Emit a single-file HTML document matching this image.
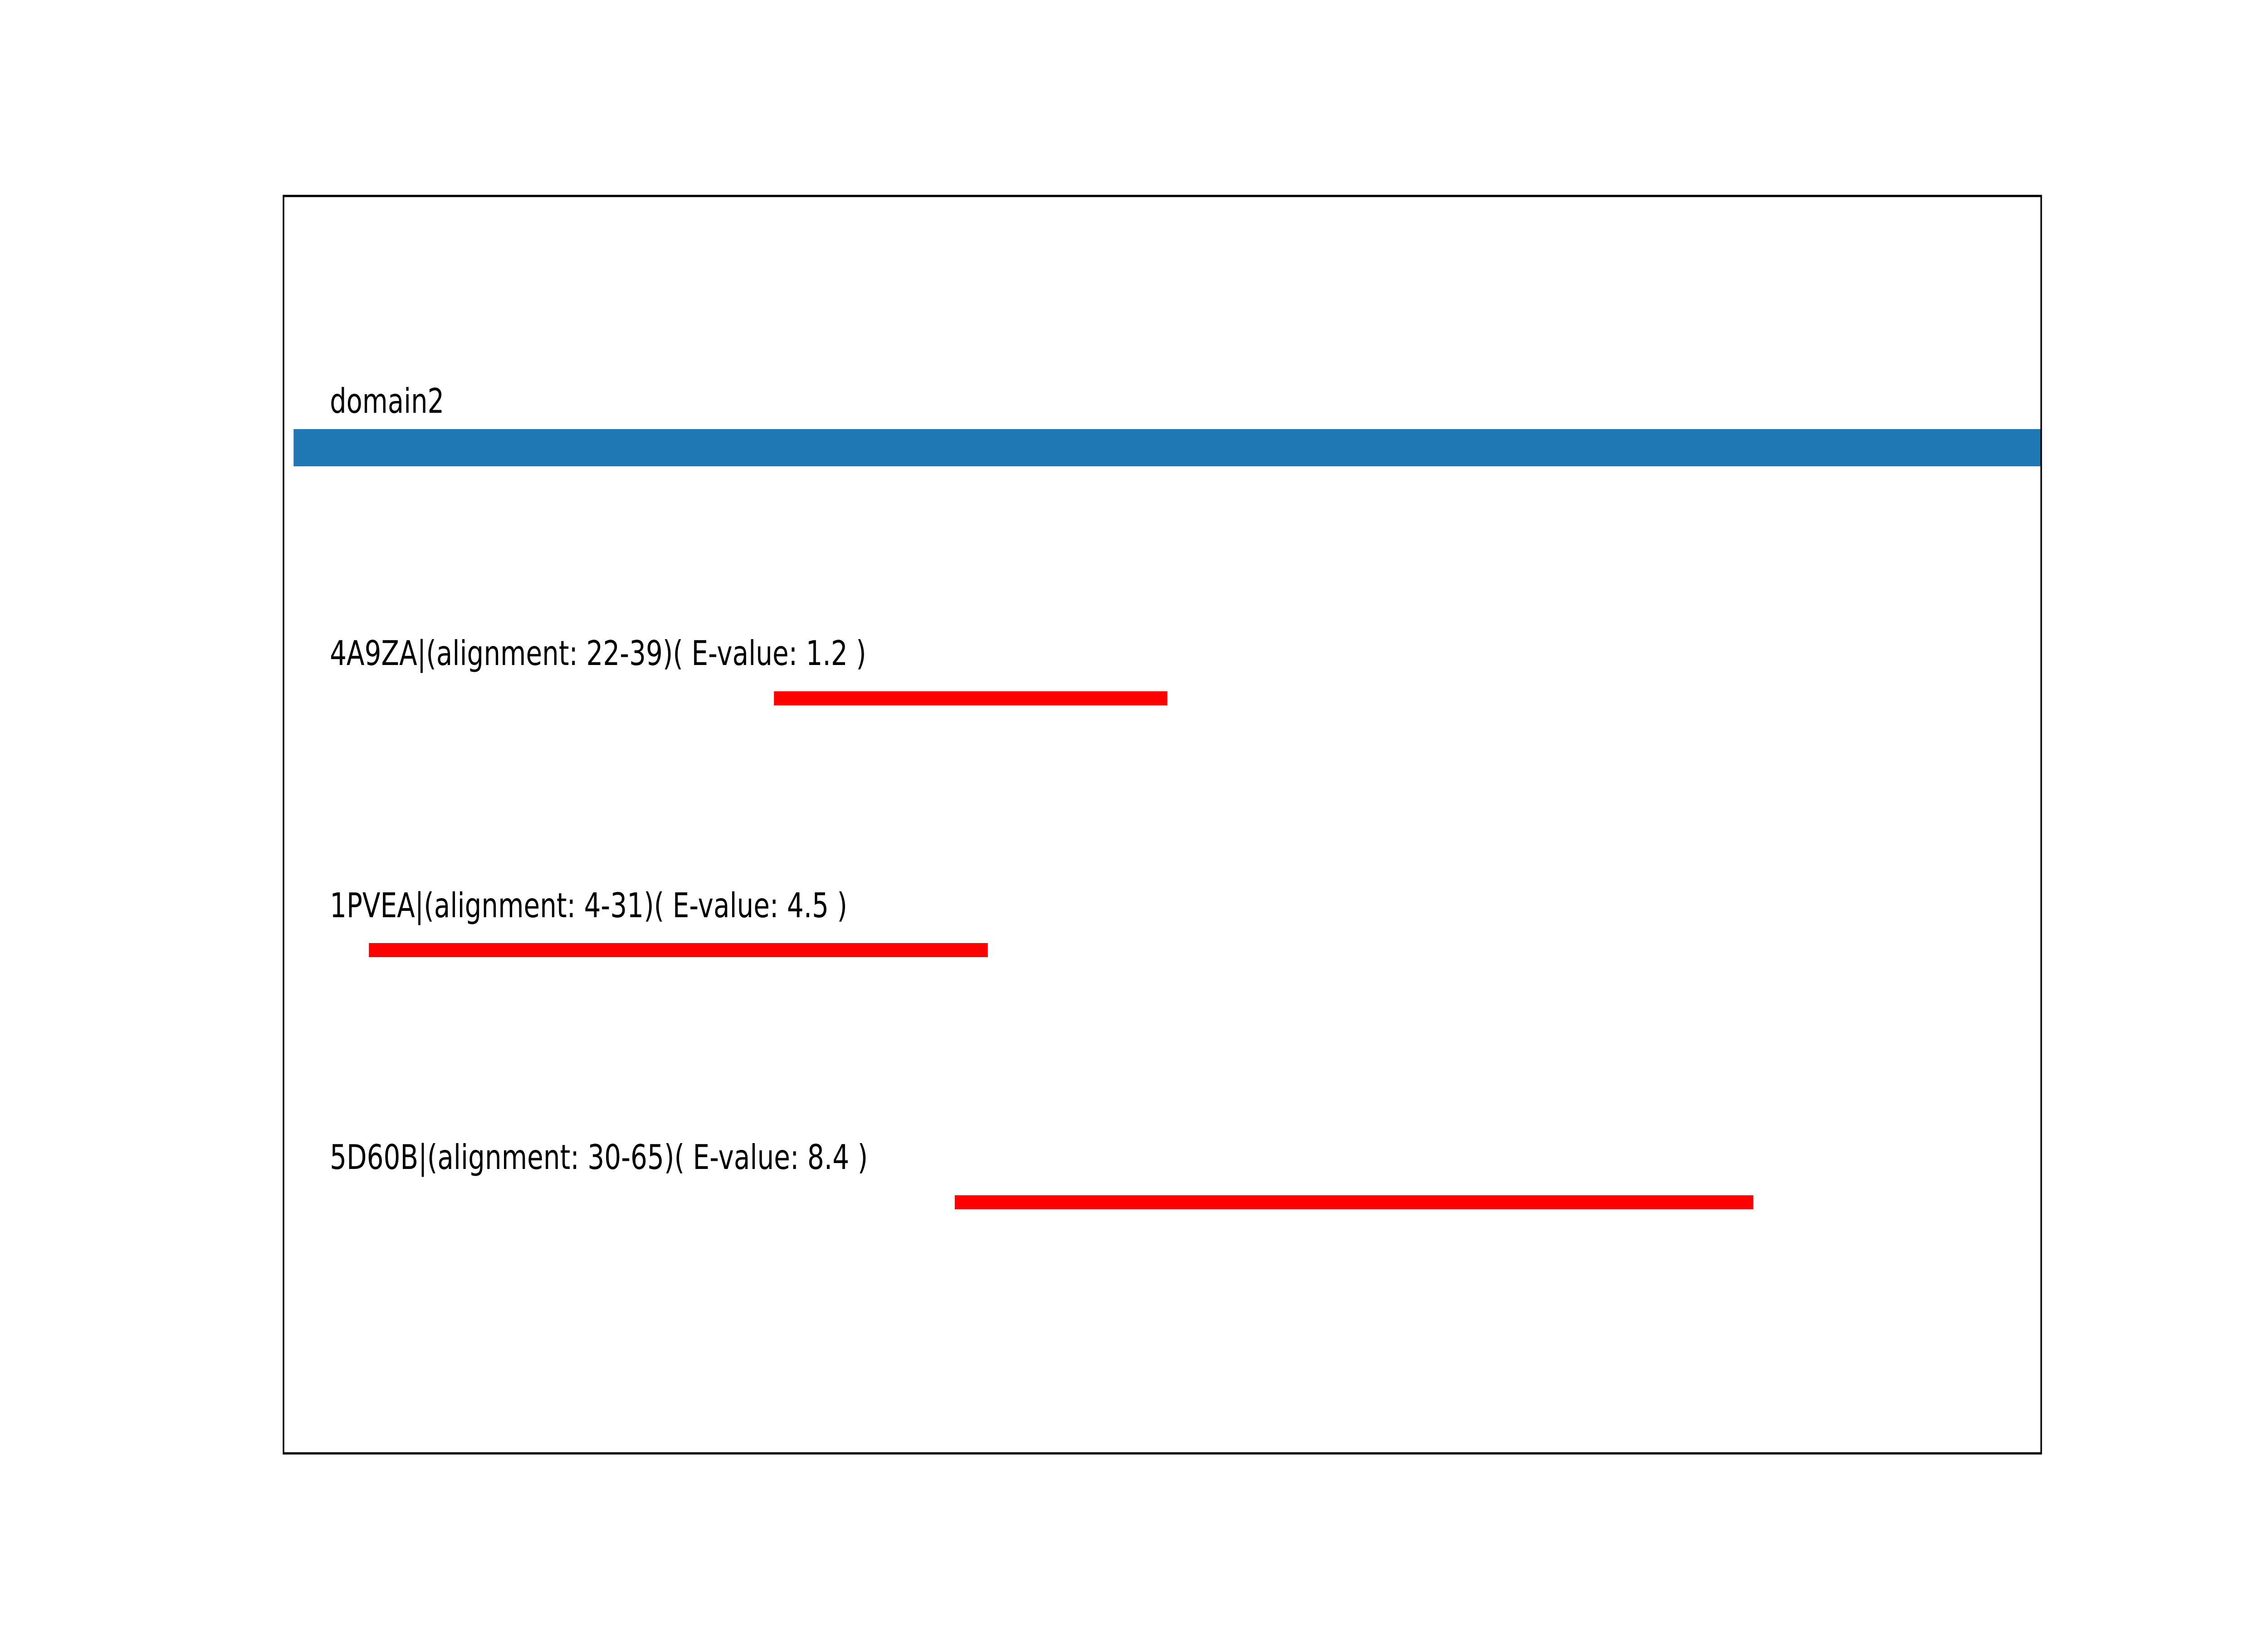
<!DOCTYPE html>
<html><head><meta charset="utf-8"><style>html,body{margin:0;padding:0;background:#fff;width:100%;height:100%;overflow:hidden}svg{display:block;position:fixed;left:0;top:0;width:100vw;height:100vh}</style></head>
<body>
<svg viewBox="0 0 7200 3600" preserveAspectRatio="none" xmlns="http://www.w3.org/2000/svg">
<rect x="0" y="0" width="7200" height="3600" fill="#fff"/>
<rect x="932" y="946" width="5548" height="82" fill="#1f77b4"/>
<rect x="2457" y="1524" width="1249" height="31" fill="#ff0000"/>
<rect x="1171" y="2079" width="1965" height="31" fill="#ff0000"/>
<rect x="3031" y="2635" width="2535" height="31" fill="#ff0000"/>
<rect x="900" y="432" width="5580" height="2772" fill="none" stroke="#000" stroke-width="5"/>
<g font-family="DejaVu Sans, Liberation Sans, sans-serif" font-size="75" fill="#000">
<text x="1047" y="910" textLength="363" lengthAdjust="spacingAndGlyphs">domain2</text>
<text x="1047" y="1466" textLength="1703" lengthAdjust="spacingAndGlyphs">4A9ZA|(alignment: 22-39)( E-value: 1.2 )</text>
<text x="1047" y="2022" textLength="1643" lengthAdjust="spacingAndGlyphs">1PVEA|(alignment: 4-31)( E-value: 4.5 )</text>
<text x="1047" y="2577" textLength="1708" lengthAdjust="spacingAndGlyphs">5D60B|(alignment: 30-65)( E-value: 8.4 )</text>
</g>
</svg>
</body></html>
